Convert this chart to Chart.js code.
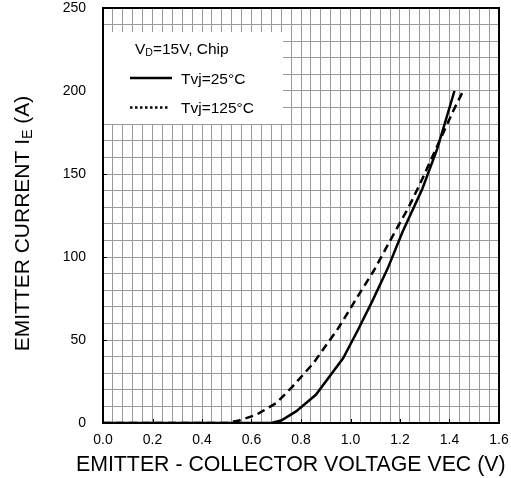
<!DOCTYPE html>
<html lang="en">
<head>
<meta charset="UTF-8">
<title>Emitter current vs VEC</title>
<script src="https://cdn.jsdelivr.net/npm/chart.js"></script>
<style>
  body { margin: 0; background: #fff; }
  #wrap { width: 511px; height: 478px; position: relative; }
</style>
</head>
<body>
<div id="wrap"><canvas id="chart"></canvas></div>
<script>
// data
const vec25 = [0, 0.68, 0.72, 0.78, 0.86, 0.97, 1.03, 1.09, 1.15, 1.21, 1.29, 1.35, 1.42];
const ie25  = [0, 0, 1.5, 7, 17, 39, 56, 74, 93, 115, 141, 165, 200];
const vec125 = [0, 0.50, 0.55, 0.62, 0.70, 0.76, 0.85, 0.95, 1.02, 1.095, 1.19, 1.235, 1.29, 1.36, 1.415, 1.455];
const ie125  = [0, 0, 1.5, 5, 12, 21, 36, 57, 74, 92, 118, 130, 147, 170, 188, 200];

const xTickLabels = ['0.0', '0.2', '0.4', '0.6', '0.8', '1.0', '1.2', '1.4', '1.6'];
const yTickLabels = ['0', '50', '100', '150', '200', '250'];
const xMinorPerMajor = 5;   // grid every 0.04
const yMinorPerMajor = 5;   // grid every 10

const FONT = '"Liberation Sans", Arial, sans-serif';

function toPoints(xs, ys) {
    return xs.map((x, i) => ({ x: x, y: ys[i] }));
}

// draw text with a subscript part, returns end x
function drawSub(ctx, parts, x, y, size) {
    parts.forEach(p => {
        const s = p.sub ? size * 0.68 : size;
        ctx.font = s + 'px ' + FONT;
        ctx.fillText(p.t, x, p.sub ? y + size * 0.12 : y);
        x += ctx.measureText(p.t).width;
    });
    return x;
}

function measureSub(ctx, parts, size) {
    let w = 0;
    parts.forEach(p => {
        ctx.font = (p.sub ? size * 0.68 : size) + 'px ' + FONT;
        w += ctx.measureText(p.t).width;
    });
    return w;
}

const decorPlugin = {
    id: 'decor',
    afterDraw(chart) {
        const ctx = chart.ctx;
        const a = chart.chartArea;
        const xs = chart.scales.x, ys = chart.scales.y;
        ctx.save();

        // frame
        ctx.strokeStyle = '#000';
        ctx.lineWidth = 2;
        ctx.strokeRect(a.left, a.top, a.right - a.left, a.bottom - a.top);

        // small inward ticks at labelled values
        ctx.lineWidth = 1;
        xTickLabels.forEach(l => {
            const px = Math.round(xs.getPixelForValue(parseFloat(l))) + 0.5;
            ctx.beginPath(); ctx.moveTo(px, a.bottom); ctx.lineTo(px, a.bottom - 4); ctx.stroke();
        });
        yTickLabels.forEach(l => {
            const py = Math.round(ys.getPixelForValue(parseFloat(l))) + 0.5;
            ctx.beginPath(); ctx.moveTo(a.left, py); ctx.lineTo(a.left + 4, py); ctx.stroke();
        });

        // legend box
        ctx.fillStyle = '#fff';
        ctx.fillRect(a.left + 1, 32, 179, 92);
        ctx.fillStyle = '#000';
        ctx.textBaseline = 'alphabetic';
        ctx.textAlign = 'left';
        drawSub(ctx, [{ t: 'V' }, { t: 'D', sub: true }, { t: '=15V, Chip' }], 135, 54, 15.5);
        ctx.strokeStyle = '#000';
        ctx.lineWidth = 2.5;
        ctx.beginPath(); ctx.moveTo(130, 78); ctx.lineTo(172, 78); ctx.stroke();
        ctx.setLineDash([2.5, 2.5]);
        ctx.beginPath(); ctx.moveTo(130, 107.5); ctx.lineTo(170, 107.5); ctx.stroke();
        ctx.setLineDash([]);
        ctx.font = '15.5px ' + FONT;
        ctx.fillText(chart.data.datasets[0].label, 181, 83.5);
        ctx.fillText(chart.data.datasets[1].label, 181, 112.5);

        // x axis title
        ctx.font = '21.3px ' + FONT;
        ctx.textAlign = 'left';
        ctx.fillText('EMITTER - COLLECTOR VOLTAGE VEC (V)', 76, 471);

        // y axis title, rotated with subscript
        const yParts = [{ t: 'EMITTER CURRENT I' }, { t: 'E', sub: true }, { t: ' (A)' }];
        const w = measureSub(ctx, yParts, 21);
        ctx.translate(29, 223.5 + w / 2);
        ctx.rotate(-Math.PI / 2);
        drawSub(ctx, yParts, 0, 0, 21);

        ctx.restore();
    }
};

new Chart(document.getElementById('chart'), {
    type: 'scatter',
    data: {
        datasets: [
            {
                label: 'Tvj=25°C',
                data: toPoints(vec25, ie25),
                showLine: true,
                borderColor: '#000',
                borderWidth: 2.5,
                pointRadius: 0,
                tension: 0
            },
            {
                label: 'Tvj=125°C',
                data: toPoints(vec125, ie125),
                showLine: true,
                borderColor: '#000',
                borderWidth: 2.5,
                borderDash: [8, 5],
                pointRadius: 0,
                tension: 0
            }
        ]
    },
    options: {
        responsive: true,
        maintainAspectRatio: false,
        animation: false,
        devicePixelRatio: 1,
        layout: { padding: { top: 8, right: 12, left: 0, bottom: 0 } },
        plugins: {
            legend: { display: false },
            tooltip: { enabled: false }
        },
        scales: {
            x: {
                type: 'linear',
                min: 0,
                max: 1.6,
                afterFit(s) { s.height = 55; s.paddingLeft = 0; s.paddingRight = 0; },
                afterBuildTicks(s) {
                    const n = (xTickLabels.length - 1) * xMinorPerMajor;
                    s.ticks = [];
                    for (let i = 0; i <= n; i++) s.ticks.push({ value: 1.6 * i / n });
                },
                grid: { color: '#9a9a9a', lineWidth: 1, drawTicks: false },
                border: { color: '#000', width: 2 },
                ticks: {
                    autoSkip: false,
                    maxRotation: 0,
                    padding: 9,
                    color: '#000',
                    font: { family: FONT, size: 14 },
                    callback(v, i) { return i % xMinorPerMajor === 0 ? xTickLabels[i / xMinorPerMajor] : ''; }
                }
            },
            y: {
                type: 'linear',
                min: 0,
                max: 250,
                afterFit(s) { s.width = 103; s.paddingTop = 0; s.paddingBottom = 0; },
                afterBuildTicks(s) {
                    const n = (yTickLabels.length - 1) * yMinorPerMajor;
                    s.ticks = [];
                    for (let i = 0; i <= n; i++) s.ticks.push({ value: 250 * i / n });
                },
                grid: { color: '#9a9a9a', lineWidth: 1, drawTicks: false },
                border: { color: '#000', width: 2 },
                ticks: {
                    autoSkip: false,
                    padding: 17,
                    color: '#000',
                    font: { family: FONT, size: 14 },
                    callback(v, i) { return i % yMinorPerMajor === 0 ? yTickLabels[i / yMinorPerMajor] : ''; }
                }
            }
        }
    },
    plugins: [decorPlugin]
});
</script>
</body>
</html>
